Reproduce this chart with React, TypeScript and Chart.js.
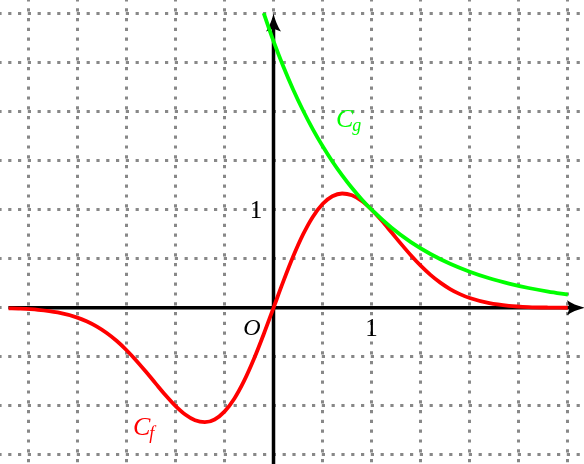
import React, { useEffect, useRef } from "react";
import { Chart, registerables } from "chart.js";

Chart.register(...registerables);

// Visible window (math units)
const X_MIN = -2.788;
const X_MAX = 3.165;
const Y_MIN = -1.592;
const Y_MAX = 3.138;

// Dotted grid positions (math units)
const X_GRID = [-2.5, -2, -1.5, -1, -0.5, 0, 0.5, 1, 1.5, 2, 2.5, 3];
const Y_GRID = [-1.5, -1, -0.5, 0, 0.5, 1, 1.5, 2, 2.5, 3];

// Axis extents (math units)
const X_AXIS_FROM = -2.7;
const Y_AXIS_TO = 3.0;

// C_f samples
const fX = [
  -2.7, -2.6, -2.4, -2.2, -2.0, -1.9, -1.8, -1.7, -1.6, -1.5, -1.4, -1.3, -1.2, -1.1, -1.0,
  -0.9, -0.8, -0.7, -0.6, -0.5, -0.4, -0.3, -0.2, -0.1, 0, 0.1, 0.2, 0.3, 0.4, 0.5, 0.6, 0.7,
  0.8, 0.9, 1.0, 1.1, 1.2, 1.3, 1.4, 1.5, 1.6, 1.7, 1.8, 1.9, 2.0, 2.2, 2.4, 2.6, 2.8, 3.0,
];
const fY = [
  -0.005, -0.0082, -0.0206, -0.0473, -0.0996, -0.1397, -0.1917, -0.2569, -0.3362, -0.4298,
  -0.5361, -0.652, -0.7728, -0.8917, -1.0, -1.0883, -1.1466, -1.1657, -1.1379, -1.0585,
  -0.9266, -0.7453, -0.5223, -0.2691, 0, 0.2691, 0.5223, 0.7453, 0.9266, 1.0585, 1.1379,
  1.1657, 1.1466, 1.0883, 1.0, 0.8917, 0.7728, 0.652, 0.5361, 0.4298, 0.3362, 0.2569,
  0.1917, 0.1397, 0.0996, 0.0473, 0.0206, 0.0082, 0.003, 0.001,
];

// C_g samples
const gX = [-0.1, 0, 0.1, 0.2, 0.3, 0.4, 0.5, 0.6, 0.7, 0.8, 0.9, 1.0, 1.2, 1.4, 1.6, 1.8, 2.0, 2.2, 2.4, 2.6, 2.8, 3.0];
const gY = [3.004, 2.718, 2.46, 2.226, 2.014, 1.822, 1.649, 1.492, 1.35, 1.221, 1.105, 1.0, 0.819, 0.67, 0.549, 0.449, 0.368, 0.301, 0.247, 0.202, 0.165, 0.135];

// Text labels
const TICK_LABELS: [string, number, number][] = [
  ["1", 1.0, -0.287],
  ["1", -0.178, 0.912],
];
const ORIGIN_LABEL: [string, number, number] = ["O", -0.219, -0.28];
const CURVE_LABELS: [string, string, number, number, string][] = [
  ["C", "g", 0.637, 1.843, "#00ff00"],
  ["C", "f", -1.432, -1.297, "#ff0000"],
];

const RED = "#ff0000";
const GREEN = "#00ff00";
const GRID_COLOR = "#888888";
const SERIF = '"Liberation Serif", "DejaVu Serif", serif';

const mathPlugin = {
  id: "mathAxes",
  beforeDatasetsDraw(chart: any) {
    const { ctx, scales } = chart;
    const xs = scales.x;
    const ys = scales.y;
    const x0 = xs.getPixelForValue(0);
    const y0 = ys.getPixelForValue(0);
    const xl = xs.getPixelForValue(X_AXIS_FROM);
    const xr = xs.getPixelForValue(X_MAX) + 1;
    const yb = ys.getPixelForValue(Y_MIN);
    const yt = ys.getPixelForValue(Y_AXIS_TO);
    const len = 18;
    const hw = 7.5;
    ctx.save();
    ctx.strokeStyle = "#000";
    ctx.fillStyle = "#000";
    ctx.lineWidth = 3.5;
    ctx.lineCap = "butt";
    ctx.beginPath();
    ctx.moveTo(xl, y0);
    ctx.lineTo(xr - len + 4, y0);
    ctx.moveTo(x0, yb);
    ctx.lineTo(x0, yt + len - 4);
    ctx.stroke();
    // arrow heads
    ctx.beginPath();
    ctx.moveTo(xr, y0);
    ctx.quadraticCurveTo(xr - len * 0.6, y0 - hw * 0.35, xr - len, y0 - hw);
    ctx.lineTo(xr - len * 0.85, y0);
    ctx.lineTo(xr - len, y0 + hw);
    ctx.quadraticCurveTo(xr - len * 0.6, y0 + hw * 0.35, xr, y0);
    ctx.closePath();
    ctx.fill();
    ctx.beginPath();
    ctx.moveTo(x0, yt);
    ctx.quadraticCurveTo(x0 - hw * 0.35, yt + len * 0.6, x0 - hw, yt + len);
    ctx.lineTo(x0, yt + len * 0.85);
    ctx.lineTo(x0 + hw, yt + len);
    ctx.quadraticCurveTo(x0 + hw * 0.35, yt + len * 0.6, x0, yt);
    ctx.closePath();
    ctx.fill();
    ctx.restore();
  },
  afterDatasetsDraw(chart: any) {
    const { ctx, scales } = chart;
    const xs = scales.x;
    const ys = scales.y;
    ctx.save();
    ctx.textBaseline = "alphabetic";
    ctx.fillStyle = "#000";
    ctx.font = `25px ${SERIF}`;
    ctx.textAlign = "center";
    for (const [t, x, y] of TICK_LABELS) {
      ctx.fillText(t, xs.getPixelForValue(x), ys.getPixelForValue(y));
    }
    ctx.font = `italic 24px ${SERIF}`;
    ctx.fillText(ORIGIN_LABEL[0], xs.getPixelForValue(ORIGIN_LABEL[1]), ys.getPixelForValue(ORIGIN_LABEL[2]));
    ctx.textAlign = "left";
    for (const [t, sub, x, y, color] of CURVE_LABELS) {
      const px = xs.getPixelForValue(x);
      const py = ys.getPixelForValue(y);
      ctx.fillStyle = color;
      ctx.font = `italic 26px ${SERIF}`;
      ctx.fillText(t, px, py);
      const w = ctx.measureText(t).width;
      ctx.font = `italic 18px ${SERIF}`;
      ctx.fillText(sub, px + w - 1, py + 4);
    }
    ctx.restore();
  },
};

const setTicks = (values: number[]) => (scale: any) => {
  scale.ticks = values.map((v) => ({ value: v }));
};

export default function App() {
  const ref = useRef<HTMLCanvasElement | null>(null);
  useEffect(() => {
    if (!ref.current) return;
    const gridOpts = {
      color: GRID_COLOR,
      lineWidth: 3,
      drawTicks: false,
    };
    const chart = new Chart(ref.current, {
      type: "scatter",
      data: {
        datasets: [
          {
            label: "C_g",
            data: gX.map((x, i) => ({ x, y: gY[i] })),
            borderColor: GREEN,
            borderWidth: 3.8,
            showLine: true,
            pointRadius: 0,
            cubicInterpolationMode: "monotone",
            order: 0,
          },
          {
            label: "C_f",
            data: fX.map((x, i) => ({ x, y: fY[i] })),
            borderColor: RED,
            borderWidth: 3.8,
            showLine: true,
            pointRadius: 0,
            cubicInterpolationMode: "monotone",
            order: 1,
          },
        ],
      },
      options: {
        animation: false,
        responsive: false,
        maintainAspectRatio: false,
        events: [],
        layout: { padding: 0 },
        plugins: { legend: { display: false }, tooltip: { enabled: false } },
        scales: {
          x: {
            type: "linear",
            min: X_MIN,
            max: X_MAX,
            ticks: { display: false, autoSkip: false },
            grid: gridOpts,
            border: { display: false, dash: [3.2, 6.6], dashOffset: 1.6 },
            afterFit: (s: any) => {
              s.height = 0;
            },
            afterBuildTicks: setTicks(X_GRID),
          },
          y: {
            type: "linear",
            min: Y_MIN,
            max: Y_MAX,
            ticks: { display: false, autoSkip: false },
            grid: gridOpts,
            border: { display: false, dash: [3.2, 6.6], dashOffset: 1.6 },
            afterFit: (s: any) => {
              s.width = 0;
            },
            afterBuildTicks: setTicks(Y_GRID),
          },
        },
      } as any,
      plugins: [mathPlugin],
    });
    return () => chart.destroy();
  }, []);
  return (
    <div style={{ position: "absolute", left: 0, top: 0, width: 584, height: 464, background: "#fff" }}>
      <canvas ref={ref} width={584} height={464} style={{ display: "block" }} />
    </div>
  );
}
